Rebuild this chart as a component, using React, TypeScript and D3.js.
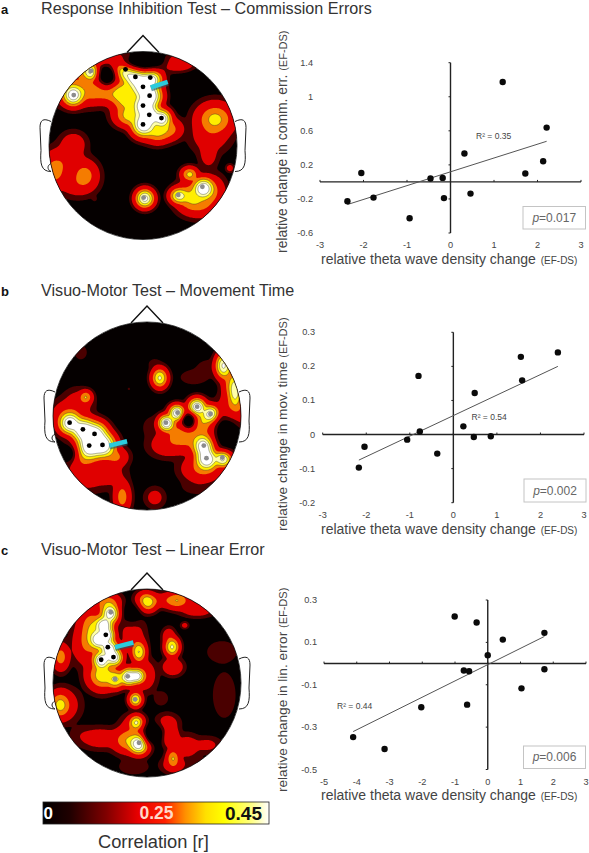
import React from "react";
import * as d3 from "d3";

type Pt = [number, number];
type Blob = [number, number, number, number, number];

const xTicksAB = [-3, -2, -1, 0, 1, 2, 3];
const xTicksC = [-5, -4, -3, -2, -1, 0, 1, 2, 3];
const yTicksA = [1.4, 1, 0.6, 0.2, -0.2, -0.6];
const yTicksB = [0.3, 0.2, 0.1, 0, -0.1, -0.2];
const yTicksC = [0.3, 0.1, -0.1, -0.3, -0.5];

const pointsA: Pt[] = [[-2.37,-0.227],[-2.05,0.105],[-1.77,-0.184],[-0.94,-0.427],[-0.46,0.04],[-0.18,0.047],[-0.15,-0.19],[0.32,0.333],[0.46,-0.137],[1.2,1.174],[1.72,0.098],[2.13,0.243],[2.21,0.638]];
const pointsB: Pt[] = [[-2.17,-0.097],[-2.04,-0.036],[-1.06,-0.015],[-0.8,0.172],[-0.77,0.009],[-0.37,-0.056],[0.23,0.024],[0.47,-0.007],[0.49,0.122],[0.86,-0.005],[1.55,0.228],[1.58,0.159],[2.4,0.241]];
const pointsC: Pt[] = [[-4.11,-0.347],[-3.15,-0.403],[-2.03,-0.206],[-1.01,0.222],[-0.73,-0.033],[-0.57,-0.036],[-0.63,-0.194],[-0.34,0.194],[0,0.039],[0.46,0.113],[1.03,-0.117],[1.73,0.145],[1.73,-0.027]];

const fitA: Pt[] = [[-2.37,-0.266],[2.21,0.477]];
const fitB: Pt[] = [[-2.17,-0.075],[2.4,0.2]];
const fitC: Pt[] = [[-4.11,-0.321],[1.73,0.128]];

// scalp fields: x, y, sigmaX, sigmaY, amplitude (negative amplitude = dip)
const fieldA: Blob[] = [
  [375,205,19,19,1.0],[405,228,19,19,1.0],[450,232,18,18,1.0],[428,258,19,19,1.02],[448,285,19,19,1.02],[428,315,19,19,1.0],[447,343,18,18,1.0],[484,353,15,15,0.98],[428,372,19,19,1.02],
  [350,195,18,18,0.74],[375,290,24,28,0.74],[385,345,24,18,0.72],[350,270,28,20,0.66],[300,270,42,20,0.6],[240,265,45,26,0.58],[270,212,14,14,0.95],[215,282,17,17,0.98],[190,240,20,30,0.5],[300,175,30,12,0.62],[240,205,22,20,0.6],
  [505,385,22,18,0.62],[470,395,22,18,0.7],[530,183,24,12,0.66],[480,190,30,14,0.42],
  [645,355,30,26,0.72],[630,405,32,28,0.46],[625,462,16,24,0.42],[690,503,7,7,0.42],
  [215,430,22,20,0.46],[195,480,30,26,0.48],[158,512,22,28,0.62],[250,525,22,24,0.62],[225,550,30,22,0.46],[280,597,7,7,0.22],
  [432,595,15,15,0.95],
  [535,587,15,13,0.85],[610,565,17,17,1.02],[568,522,14,12,0.72],[600,610,30,22,0.6],[570,590,24,24,0.68],[640,575,20,26,0.54],
  [318,222,18,22,-0.95],[430,178,50,18,-1],
];
const fieldB: Blob[] = [
  [208,428,18,18,1.0],[248,450,20,20,1.02],[283,463,20,20,1.02],[267,497,22,22,1.04],[307,495,20,20,1.03],
  [255,350,11,11,0.68],[232,372,24,24,0.46],[195,405,24,24,0.5],[240,525,28,26,0.6],[345,530,20,16,0.58],[260,585,32,26,0.44],[325,580,28,24,0.42],[365,650,14,26,0.62],[463,652,17,17,0.4],
  [478,292,13,16,0.82],[462,250,14,12,0.25],[385,325,5,5,0.22],[240,215,14,16,0.26],
  [590,380,14,14,1.0],[632,402,14,14,1.0],[530,398,13,13,1.0],[498,428,13,13,1.0],
  [612,497,18,18,1.02],[620,535,18,18,1.04],[668,533,14,14,1.02],
  [570,468,42,26,0.62],[640,470,20,26,0.5],[700,390,24,28,0.62],[690,310,14,30,0.6],[670,255,13,20,0.92],[705,330,11,28,0.88],[605,565,32,22,0.58],[580,290,30,16,0.26],[625,262,26,18,0.26],[500,495,30,20,0.46],[460,440,24,24,0.26],[530,460,24,24,0.5],[590,620,32,16,0.26],[610,420,24,24,0.7],
  [200,520,18,20,-0.9],[680,458,26,32,-1],[565,422,13,15,-0.95],
];
const fieldC: Blob[] = [
  [330,190,15,15,0.98],[310,225,15,15,1.0],[295,268,15,15,1.0],[318,255,13,13,1.0],[325,295,15,15,1.0],[340,322,14,14,0.98],[303,330,14,14,1.0],
  [345,388,15,15,0.8],[385,380,14,14,1.0],[410,378,12,12,0.95],[305,375,24,24,0.76],[280,250,20,34,0.68],[255,280,22,34,0.54],[265,220,20,30,0.52],[322,160,22,16,0.66],[430,375,20,26,0.5],
  [405,448,11,12,0.82],[415,305,12,17,0.8],[395,235,20,22,0.46],[400,275,20,20,0.46],
  [437,155,17,15,0.82],[530,150,22,14,0.68],[480,150,26,12,0.46],[590,178,28,12,0.46],
  [515,290,12,15,0.82],[505,258,11,14,0.48],[517,350,17,14,0.52],[553,225,7,6,0.4],[482,445,15,15,0.27],
  [665,305,30,22,0.28],[672,435,22,44,0.29],[178,465,18,22,0.72],[195,465,26,28,0.42],[180,320,14,22,0.62],
  [408,518,12,12,0.82],[415,582,16,16,1.02],[380,572,24,20,0.66],[400,535,22,22,0.5],[300,565,34,18,0.45],[245,555,24,18,0.28],
  [510,560,14,18,0.55],[518,625,11,15,0.68],[500,520,20,16,0.44],[560,590,22,20,0.44],[620,585,24,14,0.38],[520,645,20,14,0.46],[400,650,34,18,0.26],[590,640,38,12,0.26],
  [458,552,18,20,-1],[395,190,20,26,-0.7],
];

const electrodesA: Pt[] = [[375,205],[405,228],[450,230],[428,258],[448,285],[428,315],[447,343],[484,353],[428,372]];
const electrodesGreyA: Pt[] = [[270,210],[218,283],[430,594],[535,586],[608,561]];
const electrodesB: Pt[] = [[208,428],[248,448],[283,462],[267,497],[307,495]];
const electrodesGreyB: Pt[] = [[592,380],[632,402],[533,398],[498,428],[612,497],[620,535],[668,533]];
const electrodesC: Pt[] = [[317,255],[323,292],[340,322],[303,330]];
const electrodesGreyC: Pt[] = [[332,187],[345,388],[383,380],[405,449],[417,580]];

const arrowA: Pt[] = [[503,243],[452,260]];
const arrowB: Pt[] = [[381,484],[328,497]];
const arrowC: Pt[] = [[400,278],[345,292]];

const levels = [0.2, 0.32, 0.55, 0.68, 0.8, 0.9];
const levelColors = ["#4a0000", "#e00000", "#f57c00", "#ffee00", "#ffffa8", "#ffffff"];

const barStops: [number, string][] = [[0,"#000000"],[0.12,"#200000"],[0.28,"#800000"],[0.42,"#e80000"],[0.54,"#ff2000"],[0.63,"#ff9000"],[0.72,"#ffe000"],[0.8,"#ffff00"],[0.92,"#ffff80"],[1,"#ffffff"]];

const sans = "'Liberation Sans', Arial, sans-serif";

interface HeadCfg { cx: number; cy: number; refX: number; refY: number; refR: number; field: Blob[]; black: Pt[]; grey: Pt[]; arrow: Pt[]; }

function Head({ cfg, id }: { cfg: HeadCfg; id: string }) {
  const r = 94;
  const sx = d3.scaleLinear().domain([cfg.refX - cfg.refR, cfg.refX + cfg.refR]).range([0, 2 * r]);
  const sy = d3.scaleLinear().domain([cfg.refY - cfg.refR, cfg.refY + cfg.refR]).range([0, 2 * r]);
  const k = (2 * r) / (2 * cfg.refR);
  const spread = 1.8;
  const dipSpread = 1.15;
  const n = 2 * r + 1;
  const values = new Float64Array(n * n);
  const pos = cfg.field.filter((b) => b[4] > 0);
  const neg = cfg.field.filter((b) => b[4] < 0);
  for (let j = 0; j < n; j++) {
    for (let i = 0; i < n; i++) {
      let s = 0;
      for (const [x, y, a, b, amp] of pos) {
        const dx = (i - sx(x)) / (a * k * spread), dy = (j - sy(y)) / (b * k * spread);
        s += Math.pow(amp * Math.exp(-0.5 * (dx * dx + dy * dy)), 4);
      }
      let v = Math.pow(s, 0.25);
      for (const [x, y, a, b, amp] of neg) {
        const dx = (i - sx(x)) / (a * k * dipSpread), dy = (j - sy(y)) / (b * k * dipSpread);
        v *= 1 + amp * Math.exp(-0.5 * (dx * dx + dy * dy));
      }
      values[j * n + i] = v;
    }
  }
  const contours = d3.contours().size([n, n]).thresholds(levels)(values as any);
  const path = d3.geoPath();
  const head = `${id}-clip`;
  const tx = cfg.cx - r, ty = cfg.cy - r;
  const line = d3.line();
  const earL = `M${cfg.cx - 92},${cfg.cy - 24} C${cfg.cx - 100},${cfg.cy - 28} ${cfg.cx - 103},${cfg.cy - 25} ${cfg.cx - 103},${cfg.cy - 18} L${cfg.cx - 102},${cfg.cy + 5} C${cfg.cx - 103},${cfg.cy + 18} ${cfg.cx - 102},${cfg.cy + 26} ${cfg.cx - 92},${cfg.cy + 26} C${cfg.cx - 96},${cfg.cy + 24} ${cfg.cx - 96},${cfg.cy + 20} ${cfg.cx - 92},${cfg.cy + 18}`;
  const earR = `M${cfg.cx + 92},${cfg.cy - 24} C${cfg.cx + 100},${cfg.cy - 28} ${cfg.cx + 103},${cfg.cy - 25} ${cfg.cx + 103},${cfg.cy - 18} L${cfg.cx + 102},${cfg.cy + 5} C${cfg.cx + 103},${cfg.cy + 18} ${cfg.cx + 102},${cfg.cy + 26} ${cfg.cx + 92},${cfg.cy + 26}`;
  return (
    <g>
      <defs><clipPath id={head}><circle cx={cfg.cx} cy={cfg.cy} r={r} /></clipPath></defs>
      <path d={`M${cfg.cx - 16},${cfg.cy - 93} L${cfg.cx},${cfg.cy - 110} L${cfg.cx + 16},${cfg.cy - 93}`} fill="none" stroke="#111" strokeWidth={1.4} />
      <path d={earL} fill="none" stroke="#222" strokeWidth={1} />
      <path d={earR} fill="none" stroke="#222" strokeWidth={1} />
      <g clipPath={`url(#${head})`}>
        <circle cx={cfg.cx} cy={cfg.cy} r={r} fill="#050000" />
        <g transform={`translate(${tx},${ty})`}>
          {contours.map((c, i) => (
            <path key={i} d={path(c as any) || ""} fill={levelColors[i]} stroke={i >= 3 ? "#333" : "none"} strokeWidth={i >= 3 ? 0.4 : 0} />
          ))}
          {cfg.black.map((p, i) => <circle key={i} cx={sx(p[0])} cy={sy(p[1])} r={2.4} fill="#000" />)}
          {cfg.grey.map((p, i) => <circle key={i} cx={sx(p[0])} cy={sy(p[1])} r={2.4} fill="#8c8c8c" />)}
        </g>
      </g>
      <circle cx={cfg.cx} cy={cfg.cy} r={r} fill="none" stroke="#111" strokeWidth={0.8} />
      <g transform={`translate(${tx},${ty})`}>
        <path d={line(cfg.arrow.map((p) => [sx(p[0]), sy(p[1]) + 1] as [number, number])) || ""} stroke="#1c5a66" strokeWidth={6} fill="none" opacity={0.6} />
        <path d={line(cfg.arrow.map((p) => [sx(p[0]), sy(p[1])] as [number, number])) || ""} stroke="#2ccbdc" strokeWidth={4.5} fill="none" />
      </g>
    </g>
  );
}

interface ScatterCfg {
  xDomain: [number, number]; xRange: [number, number]; yDomain: [number, number]; yRange: [number, number];
  xTicks: number[]; yTicks: number[]; points: Pt[]; fit: Pt[];
  r2: string; r2x: number; r2y: number; p: string; box: [number, number, number, number];
  yLabel: string; yLabelBottom: number; yLabelX: number; yLabelSize: number; xLabelX: number; xLabelY: number; xTickY: number; yTickX: number;
}

function Scatter({ c }: { c: ScatterCfg }) {
  const x = d3.scaleLinear().domain(c.xDomain).range(c.xRange);
  const y = d3.scaleLinear().domain(c.yDomain).range(c.yRange);
  const gridLine = d3.line<Pt>().x((d) => x(d[0])).y((d) => y(d[1]));
  return (
    <g fontFamily={sans}>
      <line x1={x(c.xDomain[0])} x2={x(c.xDomain[1])} y1={y(0)} y2={y(0)} stroke="#222" strokeWidth={1.4} />
      <line x1={x(0)} x2={x(0)} y1={y(c.yDomain[0])} y2={y(c.yDomain[1])} stroke="#222" strokeWidth={1.4} />
      {c.xTicks.map((t) => <line key={t} x1={x(t)} x2={x(t)} y1={y(0)} y2={y(0) - 2} stroke="#222" strokeWidth={1} />)}
      {c.yTicks.map((t) => <line key={t} x1={x(0)} x2={x(0) - 2} y1={y(t)} y2={y(t)} stroke="#222" strokeWidth={1} />)}
      {c.xTicks.map((t) => <text key={t} x={x(t)} y={c.xTickY} textAnchor="middle" fontSize={9.2} fill="#444">{t}</text>)}
      {c.yTicks.map((t) => <text key={t} x={c.yTickX} y={y(t) + 3} textAnchor="end" fontSize={9.2} fill="#444">{t}</text>)}
      <path d={gridLine(c.fit) || ""} stroke="#555" strokeWidth={1} fill="none" />
      {c.points.map((p, i) => <circle key={i} cx={x(p[0])} cy={y(p[1])} r={3.2} fill="#0a0a0a" />)}
      <text x={c.r2x} y={c.r2y} fontSize={8.5} fill="#444">R² = {c.r2}</text>
      <rect x={c.box[0]} y={c.box[1]} width={c.box[2]} height={c.box[3]} fill="#fff" stroke="#c4c4c4" strokeWidth={1} />
      <text x={c.box[0] + c.box[2] / 2} y={c.box[1] + c.box[3] / 2 + 4} textAnchor="middle" fontSize={12} fill="#666">
        <tspan fontStyle="italic">p</tspan>={c.p}
      </text>
      <text x={c.xLabelX} y={c.xLabelY} fontSize={14} fill="#444">
        relative theta wave density change <tspan fontSize={10} dx={1}>(EF-DS)</tspan>
      </text>
      <text transform={`translate(${c.yLabelX},${c.yLabelBottom}) rotate(-90)`} fontSize={c.yLabelSize} fill="#444">
        {c.yLabel} <tspan fontSize={11}>(EF-DS)</tspan>
      </text>
    </g>
  );
}

const heads: HeadCfg[] = [
  { cx: 143, cy: 145.5, refX: 428, refY: 436, refR: 285, field: fieldA, black: electrodesA, grey: electrodesGreyA, arrow: arrowA },
  { cx: 147, cy: 416, refX: 441, refY: 408, refR: 283, field: fieldB, black: electrodesB, grey: electrodesGreyB, arrow: arrowB },
  { cx: 147, cy: 683, refX: 441, refY: 400, refR: 283, field: fieldC, black: electrodesC, grey: electrodesGreyC, arrow: arrowC },
];

const scatters: ScatterCfg[] = [
  { xDomain: [-3, 3], xRange: [320, 581], yDomain: [-0.6, 1.4], yRange: [233, 62.7], xTicks: xTicksAB, yTicks: yTicksA, points: pointsA, fit: fitA, r2: "0.35", r2x: 476, r2y: 139, p: "0.017", box: [523, 206.5, 62.5, 22.5], yLabel: "relative change in comm. err.", yLabelSize: 13.9, yLabelBottom: 253, yLabelX: 287, xLabelX: 321, xLabelY: 264, xTickY: 248, yTickX: 313 },
  { xDomain: [-3, 3], xRange: [322.7, 584], yDomain: [-0.2, 0.3], yRange: [502.7, 332.3], xTicks: xTicksAB, yTicks: yTicksB, points: pointsB, fit: fitB, r2: "0.54", r2x: 471.5, r2y: 420, p: "0.002", box: [524, 479, 62, 23], yLabel: "relative change in mov. time", yLabelSize: 13.7, yLabelBottom: 531, yLabelX: 287, xLabelX: 321, xLabelY: 534, xTickY: 518, yTickX: 315 },
  { xDomain: [-5, 3], xRange: [324, 586], yDomain: [-0.5, 0.3], yRange: [769.5, 600], xTicks: xTicksC, yTicks: yTicksC, points: pointsC, fit: fitC, r2: "0.44", r2x: 337, r2y: 709, p: "0.006", box: [523.5, 746, 62, 22.5], yLabel: "relative change in lin. error", yLabelSize: 13.6, yLabelBottom: 792, yLabelX: 287, xLabelX: 321, xLabelY: 800, xTickY: 785, yTickX: 317 },
];

const panelLabels = ["a", "b", "c"];
const titles = ["Response Inhibition Test – Commission Errors", "Visuo-Motor Test – Movement Time", "Visuo-Motor Test – Linear Error"];
const titleY = [14, 296, 555];

export default function App() {
  const barX = d3.scaleLinear().domain([0, 1]).range([43, 269]);
  return (
    <svg width={589} height={853} style={{ position: "absolute", left: 0, top: 0, background: "#fff" }} fontFamily={sans}>
      <defs>
        <linearGradient id="cbar">
          {barStops.map(([o, col]) => <stop key={o} offset={o} stopColor={col} />)}
        </linearGradient>
      </defs>
      {titles.map((t, i) => (
        <g key={t}>
          <text x={1} y={titleY[i]} fontSize={13} fontWeight="bold" fill="#111">{panelLabels[i]}</text>
          <text x={41} y={titleY[i]} fontSize={16.15} fill="#333">{t}</text>
        </g>
      ))}
      {heads.map((h, i) => <Head key={i} cfg={h} id={`h${i}`} />)}
      {scatters.map((s, i) => <Scatter key={i} c={s} />)}
      <rect x={barX(0)} y={802} width={barX(1) - barX(0)} height={22} fill="url(#cbar)" stroke="#222" strokeWidth={0.8} />
      <text x={43.5} y={819} fontSize={17} fontWeight="bold" fill="#fff">0</text>
      <text x={139.5} y={819} fontSize={17.5} fontWeight="bold" fill="#ffd8c8">0.25</text>
      <text x={225} y={819.5} fontSize={19} fontWeight="bold" fill="#111">0.45</text>
      <text x={98} y={848} fontSize={18.3} fill="#333">Correlation [r]</text>
    </svg>
  );
}
